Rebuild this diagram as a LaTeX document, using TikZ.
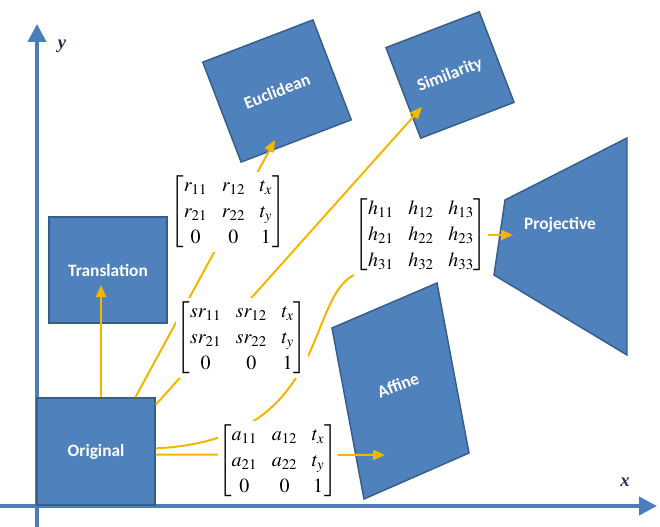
\documentclass[tikz,border=0pt]{standalone}
\usepackage{amsmath}
\usepackage{mathptmx}
\usepackage[no-math]{fontspec}
\setmainfont{Liberation Serif}
\newfontfamily\boxfont{Carlito}
\usetikzlibrary{arrows.meta}
\definecolor{boxblue}{RGB}{79,129,189}
\definecolor{boxedge}{RGB}{56,93,138}
\definecolor{axisblue}{RGB}{74,126,187}
\definecolor{gold}{RGB}{245,182,0}
\definecolor{labnavy}{RGB}{31,45,80}
\renewcommand{\arraystretch}{1.15}
\setlength{\arraycolsep}{5.5pt}
\pgfdeclarelayer{front}
\pgfsetlayers{main,front}

\begin{document}
\begin{tikzpicture}[x=0.75pt,y=-0.75pt]
        \tikzstyle{box}=[draw=boxedge,fill=boxblue,line width=1.1pt,inner sep=0pt]
        \tikzstyle{boxtext}=[text=white,font=\boxfont\fontsize{13}{15}\selectfont\bfseries]
        \tikzstyle{mat}=[fill=white,inner sep=0.5pt,font=\fontsize{15}{17}\selectfont]
        \tikzstyle{link}=[gold,line width=1.5pt]
        \tikzstyle{tip}=[-{Triangle[length=9pt,width=7.5pt]}]
        \tikzstyle{axis}=[axisblue,line width=3pt,-{Triangle[length=13.5pt,width=13.5pt]}]
        \useasboundingbox (0,0) rectangle (660,527);
        \draw [axis] (37,527) -- (37,24);
        \draw [axis] (0,506) -- (657,506);
        \node [labnavy,font=\fontsize{14}{16}\selectfont\bfseries\itshape] (ylab) at (62,46) {y};
        \node [labnavy,font=\fontsize{14}{16}\selectfont\bfseries\itshape] (xlab) at (625,482) {x};
        \node [box,boxtext,minimum width=88.5pt,minimum height=80.25pt] (orig) at (96,451.5) {Original};
        \node [box,boxtext,minimum width=88.5pt,minimum height=79.5pt] (trans) at (108,270) {Translation};
        \node [box,boxtext,minimum width=88.5pt,minimum height=80.25pt,rotate=21] (euc) at (277,91) {Euclidean};
        \node [box,boxtext,minimum width=75pt,minimum height=72.75pt,rotate=21] (sim) at (450,75) {Similarity};
        \draw [box] (505,200) -- (627,138) -- (627,355) -- (494,275) -- cycle;
        \node [boxtext] (proj) at (560,225) {Projective};
        \draw [box] (332,328) -- (437,283) -- (469,453) -- (364,499) -- cycle;
        \node [boxtext,rotate=21] (aff) at (398,385) {Affine};
        \begin{pgfonlayer}{front}
        \node [mat] (eucmat) at (228,212) {$\begin{bmatrix} r_{11} & r_{12} & t_x\\ r_{21} & r_{22} & t_y\\ 0 & 0 & 1\end{bmatrix}$};
        \node [mat] (simmat) at (242,338) {$\begin{bmatrix} sr_{11} & sr_{12} & t_x\\ sr_{21} & sr_{22} & t_y\\ 0 & 0 & 1\end{bmatrix}$};
        \node [mat] (projmat) at (421,235) {$\begin{bmatrix} h_{11} & h_{12} & h_{13}\\ h_{21} & h_{22} & h_{23}\\ h_{31} & h_{32} & h_{33}\end{bmatrix}$};
        \node [mat] (affmat) at (278,461) {$\begin{bmatrix} a_{11} & a_{12} & t_x\\ a_{21} & a_{22} & t_y\\ 0 & 0 & 1\end{bmatrix}$};
        \end{pgfonlayer}
        \coordinate (transin) at (101,285);
        \coordinate (eucin) at (275,140);
        \coordinate (simin) at (422,107);
        \coordinate (projin) at (513,235);
        \coordinate (affin) at (385,455);
        \draw [link,tip] (orig.north -| transin) -- (transin);
        \draw [link,tip] (orig.54) -- (eucin);
        \draw [link,tip] (orig.38) -- (simin);
        \draw [link] (orig.3) .. controls (330,440) and (305,300) .. (projmat.south west);
        \draw [link,tip] (projmat.east) -- (projin);
        \draw [link,tip] (orig.-3) -- (affin);
      \end{tikzpicture}
\end{document}
